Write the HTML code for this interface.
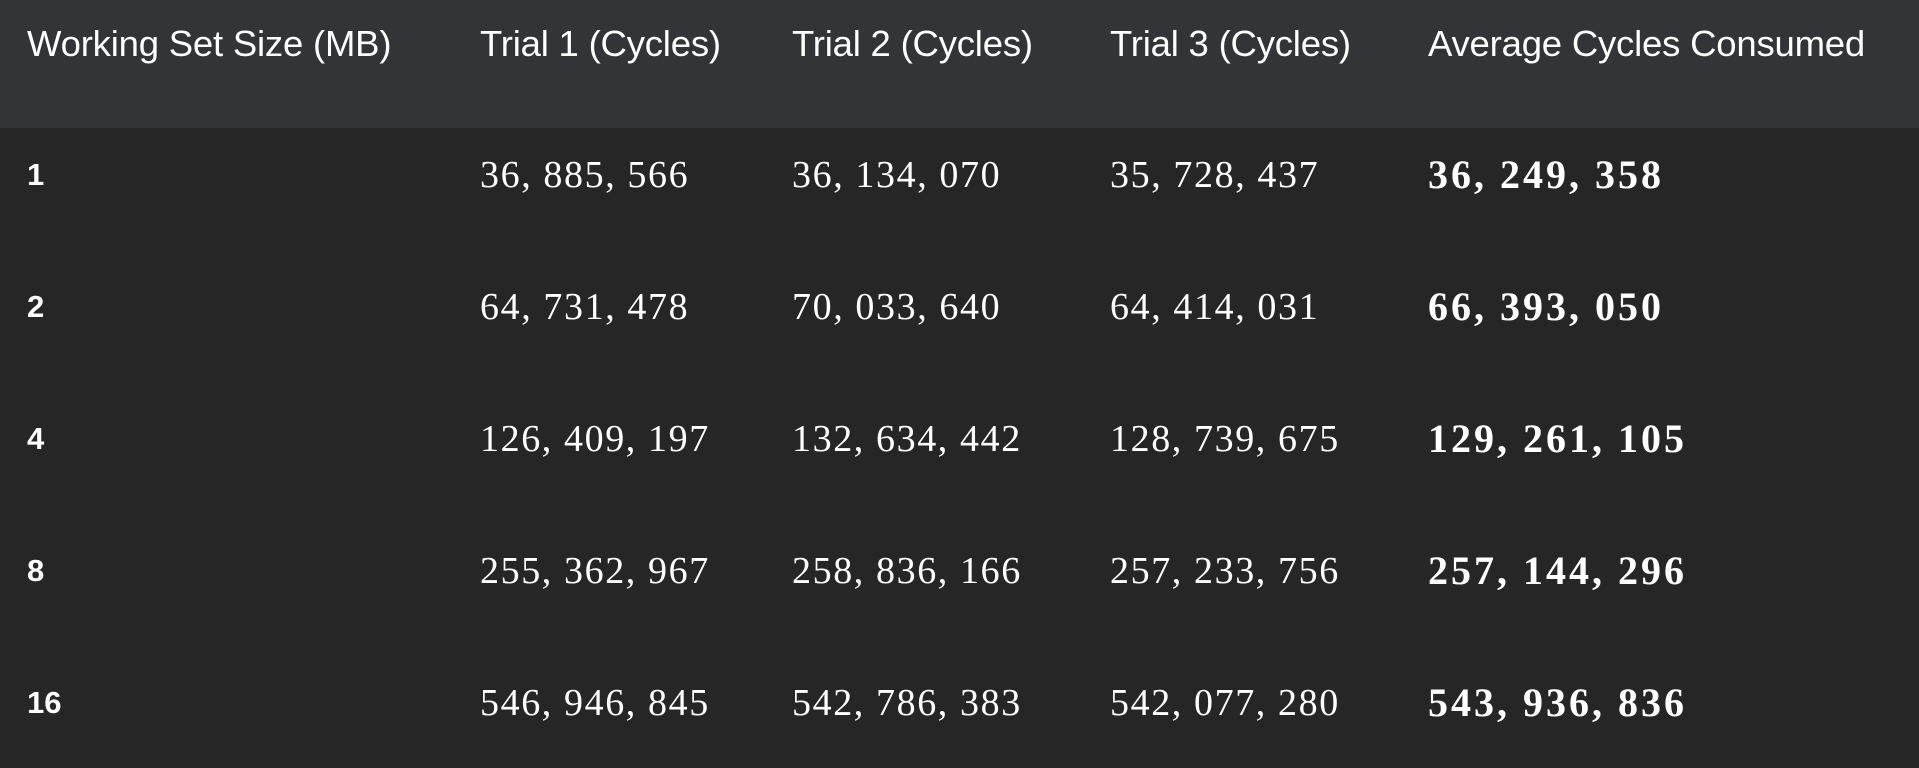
<!DOCTYPE html>
<html><head><meta charset="utf-8"><style>
body{margin:0;width:1919px;height:768px;background:#262626;overflow:hidden;font-family:"Liberation Sans",sans-serif;color:#fff}
#hdr{position:absolute;left:0;top:0;width:1919px;height:128px;background:#333437}
.h{position:absolute;top:24px;font-size:36.5px;line-height:40px;letter-spacing:-0.2px}
.c{position:absolute;font-size:38px;line-height:40px;font-family:"Liberation Serif",serif;letter-spacing:1.6px}
.f{position:absolute;font-size:31px;font-weight:bold;line-height:40px}
.b{font-weight:bold;font-size:40px;letter-spacing:3px}
</style></head><body>
<div id="hdr"></div>
<div id="t"></div>
<script>
const headers=["Working Set Size (MB)","Trial 1 (Cycles)","Trial 2 (Cycles)","Trial 3 (Cycles)","Average Cycles Consumed"];
const sizes=["1","2","4","8","16"];
const trial1=["36, 885, 566","64, 731, 478","126, 409, 197","255, 362, 967","546, 946, 845"];
const trial2=["36, 134, 070","70, 033, 640","132, 634, 442","258, 836, 166","542, 786, 383"];
const trial3=["35, 728, 437","64, 414, 031","128, 739, 675","257, 233, 756","542, 077, 280"];
const avg=["36, 249, 358","66, 393, 050","129, 261, 105","257, 144, 296","543, 936, 836"];
const colX=[27,480,792,1110,1428];
const t=document.getElementById('t');
headers.forEach((h,i)=>{const d=document.createElement('div');d.className='h';d.style.left=colX[i]+'px';d.textContent=h;


document.body.appendChild(d);});
const cols=[trial1,trial2,trial3,avg];
sizes.forEach((s,r)=>{const cy=175+r*132;
const f=document.createElement('div');f.className='f';f.style.left=colX[0]+'px';f.style.top=(cy-20)+'px';f.textContent=s;


t.appendChild(f);
cols.forEach((c,j)=>{const d=document.createElement('div');d.className='c'+(j==3?' b':'');d.style.left=colX[j+1]+'px';d.style.top=(cy-20)+'px';d.textContent=c[r];


t.appendChild(d);});});
</script>
</body></html>
